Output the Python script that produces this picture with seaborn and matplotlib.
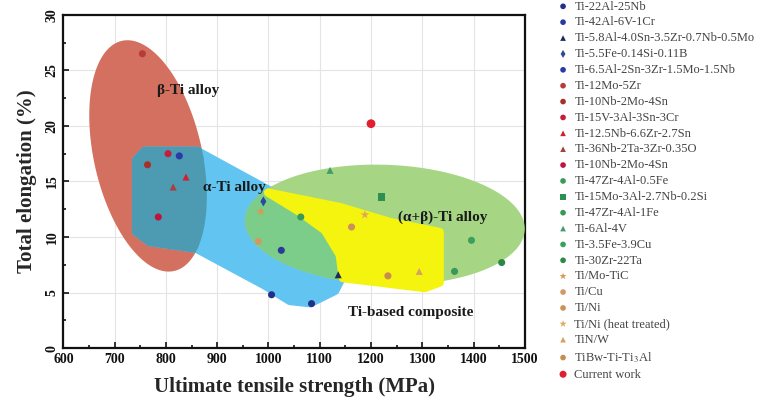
import numpy as np
import seaborn as sns
import matplotlib
matplotlib.use('Agg')
from matplotlib import pyplot as plt
from matplotlib.patches import Polygon
from matplotlib.ticker import MultipleLocator

#series: one entry per legend item
labels = ['Ti-22Al-25Nb', 'Ti-42Al-6V-1Cr', 'Ti-5.8Al-4.0Sn-3.5Zr-0.7Nb-0.5Mo', 'Ti-5.5Fe-0.14Si-0.11B',
          'Ti-6.5Al-2Sn-3Zr-1.5Mo-1.5Nb', 'Ti-12Mo-5Zr', 'Ti-10Nb-2Mo-4Sn', 'Ti-15V-3Al-3Sn-3Cr',
          'Ti-12.5Nb-6.6Zr-2.7Sn', 'Ti-36Nb-2Ta-3Zr-0.35O', 'Ti-10Nb-2Mo-4Sn', 'Ti-47Zr-4Al-0.5Fe',
          'Ti-15Mo-3Al-2.7Nb-0.2Si', 'Ti-47Zr-4Al-1Fe', 'Ti-6Al-4V', 'Ti-3.5Fe-3.9Cu', 'Ti-30Zr-22Ta',
          'Ti/Mo-TiC', 'Ti/Cu', 'Ti/Ni', 'Ti/Ni (heat treated)', 'TiN/W', 'TiBw-Ti-Ti$_3$Al', 'Current work']
uts = [[1006, 1084], [1025], [1136], [990], [826],
       [754], [764], [804], [839], [814], [785],
       [1063], [1220], [1363], [1120], [1396], [1455],
       [985], [980], [1162], [1188], [1294], [1233],
       [1200]]
elong = [[4.8, 4.0], [8.8], [6.6], [13.2], [17.3],
         [26.5], [16.5], [17.5], [15.4], [14.5], [11.8],
         [11.8], [13.6], [6.9], [16.0], [9.7], [7.7],
         [12.3], [9.6], [10.9], [12.0], [6.9], [6.5],
         [20.2]]
colors = ['#22308a', '#2a3a9c', '#1b2b5e', '#2d4a9a', '#2a3aa6',
          '#b83a3a', '#a8302c', '#c41e3a', '#d0202e', '#a84040', '#c0143c',
          '#3a9a5c', '#2f8f50', '#38985a', '#3f9e6c', '#3aa05e', '#2b8848',
          '#d89a50', '#d09a64', '#cc9058', '#dca85c', '#d4a460', '#c88c50',
          '#e0202e']
markers = ['o', 'o', '^', 'd', 'o',
           'o', 'o', 'o', '^', '^', 'o',
           'o', 's', 'o', '^', 'o', 'o',
           '*', 'o', 'o', '*', '^', 'o',
           'o']

#region outlines (data units)
alpha_x = [743, 759, 860, 999, 1100, 1149, 1149, 1129, 1081, 1042, 993, 860, 769, 743]
alpha_y = [16.9, 17.7, 17.7, 14.2, 12.0, 9.3, 7.0, 5.2, 4.1, 4.3, 5.7, 9.0, 9.6, 10.5]
comp_x = [999, 1139, 1237, 1334, 1334, 1305, 1217, 1145, 1139, 1110, 1061]
comp_y = [14.0, 12.7, 11.35, 10.45, 5.9, 5.4, 5.9, 6.3, 8.4, 10.6, 12.25]

W, H = 7.74, 4.01
L, R, B, T = 0.082, 0.678, 0.132, 0.963

sns.set_style('ticks')
plt.rcParams['font.family'] = ['Liberation Serif', 'DejaVu Serif']
plt.rcParams['mathtext.fontset'] = 'stix'

fig = plt.figure(figsize=(W, H), dpi=100)
ax = fig.add_axes([L, B, R - L, T - B])
ax.set_xlim(600, 1500)
ax.set_ylim(0, 30)

#pixels per data unit, used to draw ellipses that look right on screen
kx = (R - L) * W * 100 / 900
ky = (T - B) * H * 100 / 30


def ellipse_xy(cx, cy, a, b, ang):
    t = np.linspace(0, 2 * np.pi, 200)
    th = np.radians(ang)
    px = a * np.cos(t) * np.cos(th) - b * np.sin(t) * np.sin(th)
    py = a * np.cos(t) * np.sin(th) + b * np.sin(t) * np.cos(th)
    return np.column_stack([cx + px / kx, cy + py / ky])


ax.grid(True, color='#e4e4e4', lw=0.8, zorder=0)
ax.set_axisbelow(True)

red_patch = Polygon(ellipse_xy(765, 17.3, 118, 54, 102.8), closed=True, fc='#d4705f', ec='none', zorder=1)
ax.add_patch(red_patch)

alpha_pts = np.column_stack([alpha_x, alpha_y])
blue_patch = Polygon(alpha_pts, closed=True, fc='#62c4f0', ec='#62c4f0', lw=7, joinstyle='round', zorder=2)
ax.add_patch(blue_patch)
teal = Polygon(alpha_pts, closed=True, fc='#4c9bb2', ec='#4c9bb2', lw=7, joinstyle='round', zorder=2.1)
ax.add_patch(teal)
teal.set_clip_path(red_patch)

green_xy = ellipse_xy(1227, 11.1, 140, 60, -2)
green_patch = Polygon(green_xy, closed=True, fc='#a6d684', ec='none', zorder=3)
ax.add_patch(green_patch)
green_over = Polygon(green_xy, closed=True, fc='#7ccd8a', ec='none', zorder=3.1)
ax.add_patch(green_over)
green_over.set_clip_path(blue_patch)

comp_patch = Polygon(np.column_stack([comp_x, comp_y]), closed=True, fc='#f4f40e', ec='#f4f40e',
                     lw=6, joinstyle='round', zorder=4)
ax.add_patch(comp_patch)

for i in range(len(labels)):
    if labels[i] == 'Current work':
        size = 40
    elif markers[i] == '*':
        size = 45
    else:
        size = 26
    sns.scatterplot(x=uts[i], y=elong[i], color=colors[i], marker=markers[i], s=size,
                    edgecolor='none', label=labels[i], ax=ax, zorder=5)

tk = dict(fontsize=11, fontweight='bold', color='#1a1a1a', zorder=6)
ax.text(782, 23.2, 'β-Ti alloy', va='center', **tk)
ax.text(872, 14.5, 'α-Ti alloy', va='center', **tk)
ax.text(1252, 11.8, '(α+β)-Ti alloy', va='center', **tk)
ax.text(1155, 3.2, 'Ti-based composite', va='center', **tk)

ax.xaxis.set_major_locator(MultipleLocator(100))
ax.xaxis.set_minor_locator(MultipleLocator(50))
ax.yaxis.set_major_locator(MultipleLocator(5))
ax.yaxis.set_minor_locator(MultipleLocator(2.5))
ax.tick_params(which='both', direction='in', width=1.2, colors='#111111')
ax.tick_params(which='major', length=4, labelsize=10)
ax.tick_params(which='minor', length=2.5)
for lab in ax.get_xticklabels() + ax.get_yticklabels():
    lab.set_fontweight('bold')
for lab in ax.get_yticklabels():
    lab.set_rotation(90)
    lab.set_va('center')
for sp in ax.spines.values():
    sp.set_linewidth(1.6)
    sp.set_color('#111111')

ax.set_xlabel('Ultimate tensile strength (MPa)', fontsize=15, fontweight='bold', labelpad=8)
ax.set_ylabel('Total elongation (%)', fontsize=15, fontweight='bold', labelpad=6)

leg = ax.legend(loc='upper left', bbox_to_anchor=(0.721, 0.9985), bbox_transform=fig.transFigure,
                frameon=False, fontsize=9, labelspacing=0.31, handlelength=0.8, handletextpad=0.5,
                borderpad=0, borderaxespad=0, markerscale=0.8)
for txt in leg.get_texts():
    txt.set_color('#444444')

plt.savefig('out.png', dpi=100)
